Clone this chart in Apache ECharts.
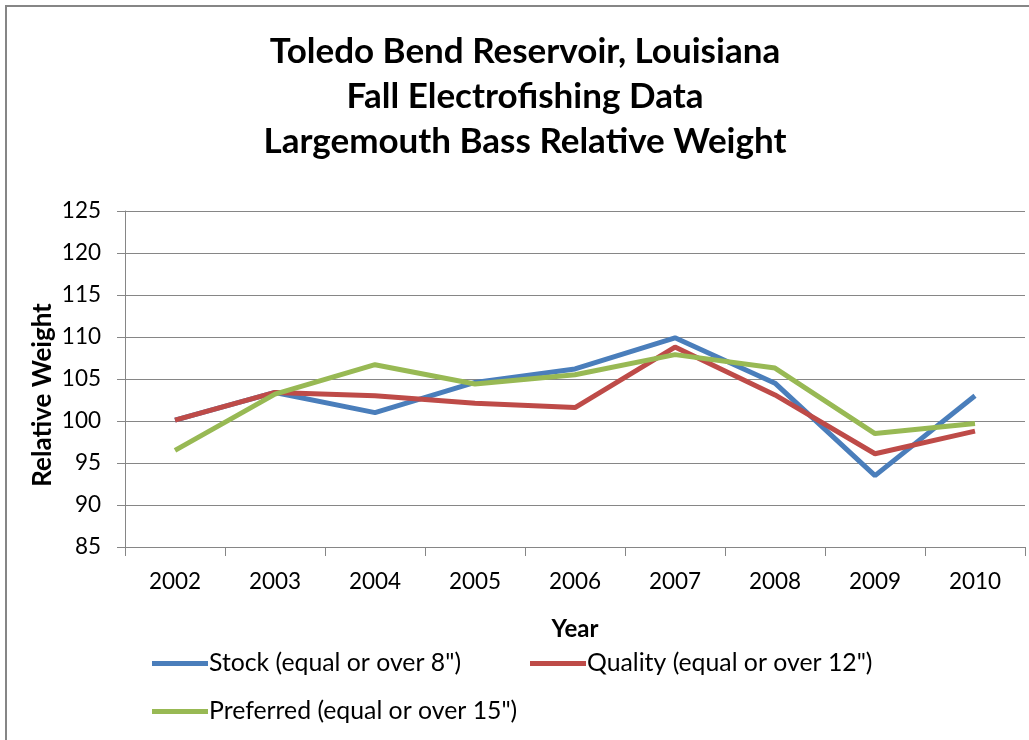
<!DOCTYPE html>
<html>
<head>
<meta charset="utf-8">
<script src="https://cdn.jsdelivr.net/npm/echarts@6/dist/echarts.min.js"></script>
<style>html,body{margin:0;padding:0;background:#fff;}#c{width:1029px;height:740px;}</style>
</head>
<body>
<div id="c"></div>
<script>
var years = ['2002','2003','2004','2005','2006','2007','2008','2009','2010'];
var stock = [100.1, 103.4, 101.0, 104.6, 106.2, 109.9, 104.5, 93.5, 103.0];
var quality = [100.1, 103.4, 103.0, 102.1, 101.6, 108.8, 103.1, 96.1, 98.8];
var preferred = [96.5, 103.2, 106.7, 104.4, 105.5, 107.9, 106.3, 98.5, 99.7];
var seriesNames = ['Stock (equal or over 8")', 'Quality (equal or over 12")', 'Preferred (equal or over 15")'];
var titleText = 'Toledo Bend Reservoir, Louisiana\nFall Electrofishing Data\nLargemouth Bass Relative Weight';

var FONT = 'Lato';
var legendText = {fontFamily: FONT, fontSize: 24.8, color: '#000', padding: [0,0,0,-4]};
function mkLegend(name, left, top) {
  return {
    data: [name], left: left, top: top, padding: 0,
    icon: 'rect', itemWidth: 56, itemHeight: 5,
    textStyle: legendText
  };
}
var chart = echarts.init(document.getElementById('c'), null, {renderer: 'canvas'});
chart.setOption({
  animation: false,
  backgroundColor: '#fff',
  textStyle: {fontFamily: FONT},
  title: {
    text: titleText,
    top: 24,
    left: 520,
    textAlign: 'center',
    textStyle: {fontFamily: FONT, fontWeight: 'bold', fontSize: 35, lineHeight: 45, color: '#000'}
  },
  grid: {left: 125, right: 4, top: 211, bottom: 193, containLabel: false},
  legend: [
    mkLegend(seriesNames[0], 152, 651),
    mkLegend(seriesNames[1], 530, 651),
    mkLegend(seriesNames[2], 152, 699)
  ],
  xAxis: {
    type: 'category',
    data: years,
    boundaryGap: true,
    name: 'Year',
    nameLocation: 'middle',
    nameGap: 70,
    nameMoveOverlap: false,
    nameTextStyle: {fontFamily: FONT, fontWeight: 'bold', fontSize: 24, color: '#000'},
    axisLine: {lineStyle: {color: '#868686', width: 1}},
    axisTick: {show: true, length: 9, interval: 0, lineStyle: {color: '#868686'}},
    axisLabel: {fontFamily: FONT, fontSize: 22.5, color: '#000', margin: 23},
    splitLine: {show: false}
  },
  yAxis: {
    type: 'value',
    min: 85, max: 125, interval: 5,
    name: 'Relative Weight',
    nameLocation: 'middle',
    nameGap: 69,
    nameMoveOverlap: false,
    nameTextStyle: {fontFamily: FONT, fontWeight: 'bold', fontSize: 26, color: '#000', padding: [0, 32, 0, 0]},
    axisLine: {show: true, lineStyle: {color: '#868686', width: 1}},
    axisTick: {show: true, length: 8, lineStyle: {color: '#868686'}},
    axisLabel: {fontFamily: FONT, fontSize: 22.5, color: '#000', margin: 24},
    splitLine: {show: true, lineStyle: {color: '#868686', width: 1}}
  },
  series: [
    {name: seriesNames[0], type: 'line', data: stock, showSymbol: false, symbol: 'none',
     lineStyle: {color: '#4A7EBB', width: 5}, itemStyle: {color: '#4A7EBB'}},
    {name: seriesNames[1], type: 'line', data: quality, showSymbol: false, symbol: 'none',
     lineStyle: {color: '#BE4B48', width: 5}, itemStyle: {color: '#BE4B48'}},
    {name: seriesNames[2], type: 'line', data: preferred, showSymbol: false, symbol: 'none',
     lineStyle: {color: '#98B954', width: 5}, itemStyle: {color: '#98B954'}}
  ],
  graphic: [
    {type: 'line', shape: {x1: 5, y1: 6, x2: 1029, y2: 6}, style: {stroke: '#868686', lineWidth: 2}},
    {type: 'line', shape: {x1: 6, y1: 5, x2: 6, y2: 740}, style: {stroke: '#868686', lineWidth: 2}}
  ]
});
</script>
</body>
</html>
